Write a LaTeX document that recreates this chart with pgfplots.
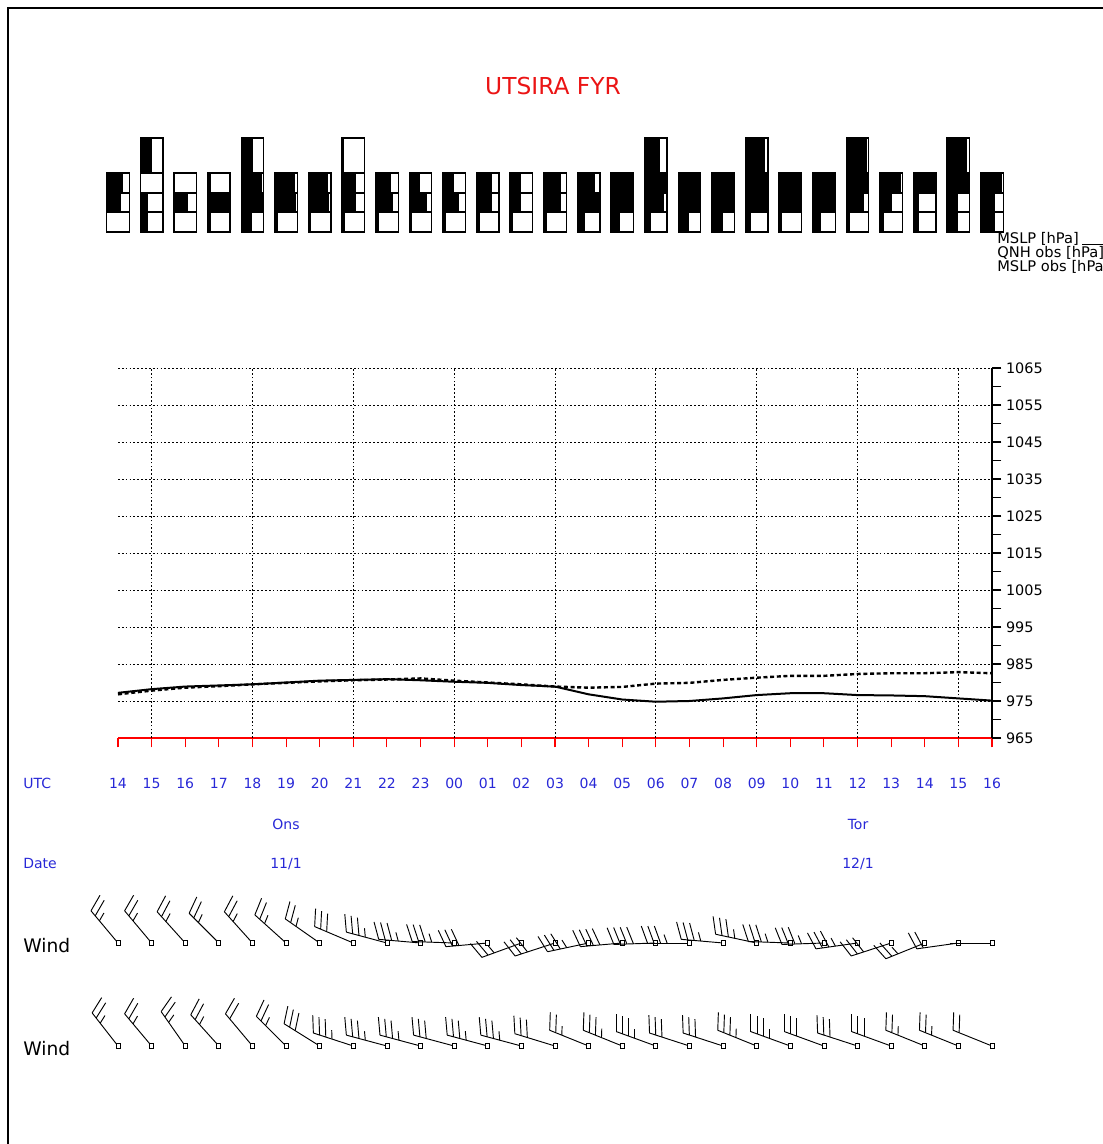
\documentclass[border=0pt]{standalone}
\usepackage{pgfplots}
\pgfplotsset{compat=1.18}
\usepackage{pgfplotstable}
\usepackage{fontspec}
\setmainfont{DejaVu Sans}
\definecolor{labblue}{RGB}{40,40,215}
\definecolor{titred}{RGB}{235,20,20}

\pgfdeclareplotmark{blank}{}

\pgfplotsset{
  windbarb/.style={
    scatter, only marks, mark=blank,
    visualization depends on={\thisrow{ang} \as \bang},
    visualization depends on={\thisrow{nf} \as \bnf},
    visualization depends on={\thisrow{nh} \as \bnh},
    scatter/@pre marker code/.code={%
      \draw[black, line width=0.7pt] (0pt,0pt) -- (\bang:31.5pt);
      \foreach \pos [count=\c] in {31.5,26.6,21.7,16.8,11.9}{%
        \ifdim\c pt>\bnf pt\relax\else
          \draw[black, line width=0.7pt] (\bang:\pos pt) -- ++(\bang-70:13.5pt);
        \fi
        \ifdim\bnh pt>0pt\relax
          \ifdim\c pt=\dimexpr\bnf pt+1pt\relax
            \draw[black, line width=0.7pt] (\bang:\pos pt) -- ++(\bang-70:6.75pt);
          \fi
        \fi
      }
      \draw[black, fill=white, line width=0.6pt] (-1.5pt,-1.9pt) rectangle (1.5pt,1.9pt);
    },
    scatter/@post marker code/.code={},
  },
  cloudbox/.style={
    scatter, only marks, mark=blank,
    visualization depends on={\thisrow{hh} \as \chh},
    visualization depends on={\thisrow{fr} \as \cfr},
    scatter/@pre marker code/.code={%
      \fill[black] (-8.44pt,-\chh pt) rectangle ({-8.44pt+16.88pt*\cfr},\chh pt);
      \draw[black, line width=1pt] (-8.44pt,-\chh pt) rectangle (8.44pt,\chh pt);
    },
    scatter/@post marker code/.code={},
  },
}

% cloud cover boxes: hour index, row centre (px from top), half height (pt), filled fraction
\pgfplotstableread{
h y hh fr
0 183 7.5 0.67
0 202.5 7.1 0.62
0 222 7.5 0
1 155.5 13.1 0.5
1 183 7.5 0
1 202.5 7.1 0.3
1 222 7.5 0.3
2 183 7.5 0
2 202.5 7.1 0.6
2 222 7.5 0
3 183 7.5 0.12
3 202.5 7.1 0.9
3 222 7.5 0.12
4 155.5 13.1 0.5
4 183 7.5 0.9
4 202.5 7.1 0.95
4 222 7.5 0.45
5 183 7.5 0.85
5 202.5 7.1 0.9
5 222 7.5 0.1
6 183 7.5 0.85
6 202.5 7.1 0.9
6 222 7.5 0.1
7 155.5 13.1 0.05
7 183 7.5 0.6
7 202.5 7.1 0.6
7 222 7.5 0.1
8 183 7.5 0.65
8 202.5 7.1 0.75
8 222 7.5 0.1
9 183 7.5 0.45
9 202.5 7.1 0.75
9 222 7.5 0.1
10 183 7.5 0.45
10 202.5 7.1 0.7
10 222 7.5 0.1
11 183 7.5 0.65
11 202.5 7.1 0.65
11 222 7.5 0.1
12 183 7.5 0.45
12 202.5 7.1 0.45
12 222 7.5 0.1
13 183 7.5 0.75
13 202.5 7.1 0.75
13 222 7.5 0.1
14 183 7.5 0.73
14 202.5 7.1 1
14 222 7.5 0.3
15 183 7.5 1
15 202.5 7.1 1
15 222 7.5 0.35
16 155.5 13.1 0.67
16 183 7.5 1
16 202.5 7.1 0.85
16 222 7.5 0.25
17 183 7.5 1
17 202.5 7.1 1
17 222 7.5 0.45
18 183 7.5 1
18 202.5 7.1 1
18 222 7.5 0.45
19 155.5 13.1 0.85
19 183 7.5 1
19 202.5 7.1 1
19 222 7.5 0.2
20 183 7.5 1
20 202.5 7.1 1
20 222 7.5 0.1
21 183 7.5 1
21 202.5 7.1 1
21 222 7.5 0.35
22 155.5 13.1 0.9
22 183 7.5 0.93
22 202.5 7.1 0.77
22 222 7.5 0.15
23 183 7.5 0.9
23 202.5 7.1 0.5
23 222 7.5 0.15
24 183 7.5 0.95
24 202.5 7.1 0.2
24 222 7.5 0.2
25 155.5 13.1 0.85
25 183 7.5 0.93
25 202.5 7.1 0.45
25 222 7.5 0.45
26 183 7.5 0.9
26 202.5 7.1 0.6
26 222 7.5 0.6
}\cloudtab

% wind, first row: hour index, row (px), staff angle (deg), full and half barbs
\pgfplotstableread{
h y ang nf nh
0 943 130 2 1
1 943 130 2 1
2 943 132 2 1
3 943 135 2 1
4 943 132 2 1
5 943 138 2 1
6 943 145 2 1
7 943 157 3 0
8 943 165 3 1
9 943 175 3 1
10 943 178 3 1
11 943 185 3 0
12 943 200 2 1
13 943 198 3 0
14 943 192 3 1
15 943 185 4 0
16 943 182 4 0
17 943 180 3 1
18 943 175 3 1
19 943 168 3 1
20 943 178 3 1
21 943 182 3 1
22 943 188 3 1
23 943 198 3 0
24 943 202 2 1
25 943 188 2 0
26 943 180 0 0
}\windA

\pgfplotstableread{
h y ang nf nh
0 1046 128 2 1
1 1046 130 2 1
2 1046 125 2 1
3 1046 132 2 1
4 1046 130 2 0
5 1046 135 2 1
6 1046 148 3 0
7 1046 162 3 1
8 1046 165 3 1
9 1046 165 3 1
10 1046 165 3 0
11 1046 165 3 1
12 1046 165 3 1
13 1046 163 3 0
14 1046 158 2 1
15 1046 158 3 1
16 1046 160 3 1
17 1046 162 3 0
18 1046 162 3 0
19 1046 158 3 1
20 1046 160 3 1
21 1046 160 3 0
22 1046 162 3 0
23 1046 160 3 0
24 1046 158 2 1
25 1046 158 2 1
26 1046 158 2 0
}\windB

\pgfplotstableread{
h mslp qnh
0 977.2 976.8
1 978.2 977.8
2 978.9 978.6
3 979.2 979.0
4 979.5 979.5
5 980.0 979.9
6 980.5 980.3
7 980.7 980.6
8 980.9 980.8
9 980.6 981.1
10 980.2 980.5
11 979.9 980.0
12 979.3 979.5
13 978.9 978.9
14 976.8 978.6
15 975.4 978.8
16 974.8 979.7
17 975.0 979.9
18 975.7 980.7
19 976.6 981.3
20 977.1 981.8
21 977.1 981.8
22 976.6 982.3
23 976.5 982.5
24 976.3 982.5
25 975.7 982.8
26 975.1 982.5
}\prestab

\begin{document}
\begin{tikzpicture}
\path[use as bounding box] (0pt,0pt) rectangle (826.5pt,858pt);
\begin{scope}[x=0.75pt,y=0.75pt]
  \draw[line width=1.1pt] (8,-5) -- (8,1136) -- (1110,1136);
  \node[anchor=base, text=titred, font=\fontsize{17.5}{20}\selectfont] at (553,1049.5) {UTSIRA FYR};
  \begin{scope}[font=\fontsize{10.5}{12}\selectfont, text=labblue]
    \node[anchor=base west, inner sep=0pt] at (23,355) {UTC};
    \node[anchor=base, inner sep=0pt] at (286,314.5) {Ons};
    \node[anchor=base, inner sep=0pt] at (858,314.5) {Tor};
    \node[anchor=base west, inner sep=0pt] at (23,275) {Date};
    \node[anchor=base, inner sep=0pt] at (286,275) {11/1};
    \node[anchor=base, inner sep=0pt] at (858,275) {12/1};
  \end{scope}
  \node[anchor=base west, inner sep=0pt, font=\fontsize{14}{16}\selectfont] at (23,191) {Wind};
  \node[anchor=base west, inner sep=0pt, font=\fontsize{14}{16}\selectfont] at (23,88) {Wind};
  % legend (cut by the page edge as in the original)
  \begin{scope}[font=\fontsize{11}{12}\selectfont]
    \node[anchor=base west, inner sep=0pt] at (997,900) {MSLP [hPa]};
    \node[anchor=base west, inner sep=0pt] at (997,886) {QNH obs [hPa]};
    \node[anchor=base west, inner sep=0pt] at (997,872.5) {MSLP obs [hPa]};
  \end{scope}
  \draw[line width=1.2pt] (1082,899.5) -- (1110,899.5);
\end{scope}

% cloud cover
\begin{axis}[
  at={(88.5pt,678pt)}, anchor=south west, scale only axis,
  width=655.5pt, height=82.5pt,
  xmin=0, xmax=26, ymin=130, ymax=240, y dir=reverse,
  hide axis, clip=false]
  \addplot[cloudbox] table[x=h, y=y] {\cloudtab};
\end{axis}

% pressure
\begin{axis}[
  at={(88.5pt,304.5pt)}, anchor=south west, scale only axis,
  width=655.5pt, height=277.5pt,
  xmin=0, xmax=26, ymin=965, ymax=1065,
  axis x line=bottom, axis y line=right,
  x axis line style={draw=red, line width=1.6pt, -},
  y axis line style={draw=black, line width=1.6pt, -},
  tick align=outside,
  major tick length=7pt, minor tick length=7pt,
  xtick={0,...,26},
  xticklabels={14,15,16,17,18,19,20,21,22,23,00,01,02,03,04,05,06,07,08,09,10,11,12,13,14,15,16},
  xtick style={draw=red, line width=0.8pt},
  xticklabel style={text=labblue, font=\fontsize{10.5}{12}\selectfont, anchor=base, yshift=-31pt},
  extra x ticks={1,4,7,10,13,16,19,22,25},
  extra x tick labels={},
  extra x tick style={grid=major, major tick length=0pt},
  ytick={965,975,...,1065},
  minor ytick={970,980,...,1060},
  ytick style={draw=black, line width=1pt},
  yticklabel style={font=\fontsize{10.8}{12}\selectfont},
  /pgf/number format/1000 sep={},
  /pgf/number format/assume math mode=true,
  ymajorgrids=true,
  grid style={black, line width=0.55pt, dash pattern=on 1.3pt off 1.6pt},
  clip=false,
]
  \addplot[black, line width=1.5pt] table[x=h, y=mslp] {\prestab};
  \addplot[black, line width=1.8pt, dash pattern=on 3pt off 2pt] table[x=h, y=qnh] {\prestab};
\end{axis}

% wind barbs
\begin{axis}[
  at={(88.5pt,55.5pt)}, anchor=south west, scale only axis,
  width=655.5pt, height=142.5pt,
  xmin=0, xmax=26, ymin=880, ymax=1070, y dir=reverse,
  hide axis, clip=false]
  \addplot[windbarb] table[x=h, y=y] {\windA};
  \addplot[windbarb] table[x=h, y=y] {\windB};
\end{axis}
\end{tikzpicture}
\end{document}
